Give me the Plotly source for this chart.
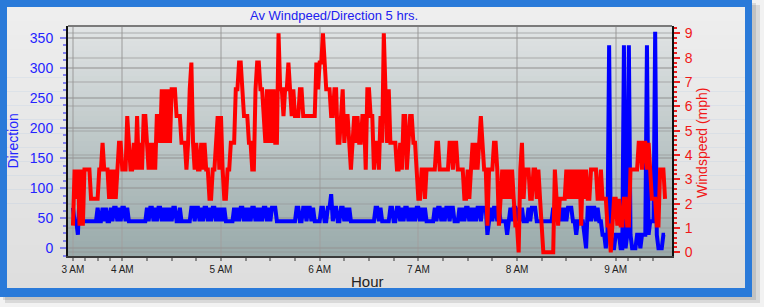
import pandas as pd
import plotly.graph_objects as go

# ---------------- data (1-minute readings, 03:30 - 09:30) ----------------
times = pd.date_range("2024-01-01 03:30", periods=361, freq="1min")

direction = [
    67.5, 45, 45, 22.5, 90, 45, 45, 45, 45, 45,
    45, 45, 45, 45, 45, 67.5, 45, 45, 67.5, 45,
    67.5, 45, 45, 67.5, 45, 67.5, 67.5, 45, 67.5, 45,
    67.5, 67.5, 45, 67.5, 45, 45, 45, 45, 45, 45,
    45, 45, 45, 45, 45, 67.5, 45, 67.5, 67.5, 45,
    67.5, 45, 67.5, 67.5, 45, 67.5, 45, 67.5, 45, 67.5,
    45, 67.5, 67.5, 45, 45, 67.5, 45, 45, 45, 45,
    45, 45, 67.5, 67.5, 45, 67.5, 67.5, 45, 67.5, 45,
    67.5, 67.5, 45, 67.5, 45, 67.5, 67.5, 45, 67.5, 45,
    67.5, 45, 67.5, 45, 45, 45, 45, 45, 67.5, 45,
    67.5, 45, 67.5, 67.5, 45, 67.5, 45, 67.5, 45, 67.5,
    67.5, 45, 67.5, 45, 67.5, 45, 67.5, 67.5, 45, 67.5,
    45, 67.5, 67.5, 67.5, 45, 45, 45, 45, 45, 45,
    45, 45, 45, 45, 45, 45, 67.5, 67.5, 45, 45,
    67.5, 67.5, 45, 67.5, 67.5, 45, 67.5, 45, 45, 45,
    45, 67.5, 67.5, 45, 45, 67.5, 67.5, 90, 45, 67.5,
    67.5, 45, 45, 67.5, 67.5, 45, 67.5, 45, 67.5, 45,
    45, 45, 45, 45, 45, 45, 45, 45, 45, 45,
    45, 45, 45, 45, 67.5, 67.5, 45, 67.5, 45, 45,
    45, 45, 45, 67.5, 67.5, 45, 45, 67.5, 67.5, 45,
    67.5, 45, 67.5, 67.5, 45, 67.5, 45, 67.5, 45, 67.5,
    67.5, 45, 67.5, 45, 67.5, 45, 45, 45, 45, 45,
    67.5, 45, 67.5, 67.5, 45, 67.5, 45, 67.5, 67.5, 45,
    67.5, 67.5, 45, 45, 45, 67.5, 45, 67.5, 45, 67.5,
    67.5, 45, 67.5, 45, 67.5, 45, 67.5, 67.5, 45, 67.5,
    67.5, 67.5, 22.5, 45, 67.5, 45, 67.5, 67.5, 45, 67.5,
    45, 45, 45, 45, 22.5, 45, 67.5, 45, 67.5, 67.5,
    45, 67.5, 45, 67.5, 45, 45, 45, 67.5, 45, 67.5,
    67.5, 67.5, 45, 45, 45, 45, 45, 45, 45, 45,
    45, 45, 67.5, 45, 67.5, 67.5, 45, 67.5, 45, 67.5,
    45, 67.5, 67.5, 67.5, 45, 45, 22.5, 45, 45, 45,
    45, 22.5, 0, 67.5, 67.5, 45, 67.5, 67.5, 45, 67.5,
    45, 45, 22.5, 22.5, 0, 22.5, 337.5, 22.5, 0, 0,
    22.5, 22.5, 22.5, 0, 0, 337.5, 0, 22.5, 337.5, 22.5,
    0, 0, 0, 22.5, 22.5, 0, 22.5, 22.5, 22.5, 337.5,
    22.5, 45, 45, 45, 360, 22.5, 0, 0, 0, 22.5,
    22.5,
]

windspeed = [
    1.1, 3.4, 2.2, 3.4, 1.1, 3.4, 1.1, 3.4, 3.4, 3.4,
    3.4, 2.2, 2.2, 2.2, 2.2, 2.2, 3.4, 3.4, 4.5, 3.4,
    3.4, 3.4, 2.2, 3.4, 2.2, 3.4, 2.2, 3.4, 4.5, 4.5,
    3.4, 3.4, 3.4, 5.6, 4.5, 3.4, 3.4, 4.5, 3.4, 5.6,
    3.4, 4.5, 3.4, 5.6, 5.6, 4.5, 3.4, 4.5, 3.4, 4.5,
    3.4, 5.6, 5.6, 4.5, 6.7, 4.5, 6.7, 4.5, 6.7, 4.5,
    6.7, 6.7, 6.7, 5.6, 5.6, 5.6, 4.5, 4.5, 4.5, 3.4,
    4.5, 6.7, 7.8, 4.5, 3.4, 4.5, 3.4, 3.4, 4.5, 3.4,
    4.5, 3.4, 3.4, 2.2, 2.2, 3.4, 3.4, 4.5, 5.6, 3.4,
    5.6, 3.4, 2.2, 2.2, 3.4, 3.4, 4.5, 4.5, 4.5, 6.7,
    6.7, 7.8, 7.8, 6.7, 5.6, 5.6, 5.6, 4.5, 4.5, 3.4,
    3.4, 6.7, 7.8, 7.8, 6.7, 6.7, 5.6, 4.5, 6.7, 4.5,
    6.7, 4.5, 6.7, 4.5, 4.5, 9.0, 6.7, 6.7, 5.6, 6.7,
    6.7, 7.8, 6.7, 5.6, 6.7, 5.6, 5.6, 5.6, 6.7, 6.7,
    5.6, 5.6, 5.6, 5.6, 5.6, 5.6, 5.6, 5.6, 7.8, 6.7,
    7.8, 7.8, 9.0, 7.8, 6.7, 6.7, 6.7, 5.6, 5.6, 6.7,
    6.7, 4.5, 4.5, 5.6, 6.7, 4.5, 5.6, 5.6, 4.5, 3.4,
    4.5, 5.6, 4.5, 5.6, 4.5, 4.5, 5.6, 5.6, 3.4, 6.7,
    6.7, 5.6, 5.6, 3.4, 4.5, 4.5, 3.4, 5.6, 4.5, 9.0,
    6.7, 4.5, 6.7, 4.5, 4.5, 4.5, 4.5, 3.4, 3.4, 4.5,
    3.4, 5.6, 5.6, 3.4, 4.5, 5.6, 5.6, 4.5, 4.5, 3.4,
    2.2, 2.2, 3.4, 3.4, 2.2, 3.4, 3.4, 3.4, 3.4, 3.4,
    3.4, 4.5, 4.5, 3.4, 3.4, 3.4, 3.4, 3.4, 3.4, 4.5,
    4.5, 3.4, 4.5, 4.5, 3.4, 3.4, 3.4, 3.4, 2.2, 2.2,
    3.4, 2.2, 3.4, 4.5, 3.4, 4.5, 3.4, 4.5, 5.6, 4.5,
    3.4, 3.4, 1.1, 3.4, 3.4, 3.4, 4.5, 4.5, 3.4, 1.1,
    2.2, 3.4, 2.2, 3.4, 2.2, 3.4, 2.2, 3.4, 2.2, 1.1,
    1.1, 0, 3.4, 4.5, 2.2, 3.4, 3.4, 3.4, 2.2, 2.2,
    3.4, 3.4, 2.2, 3.4, 2.2, 1.1, 0, 0, 0, 0,
    0, 0, 0, 3.4, 2.2, 1.1, 2.2, 2.2, 2.2, 2.2,
    3.4, 2.2, 3.4, 2.2, 3.4, 2.2, 3.4, 2.2, 3.4, 1.1,
    3.4, 2.2, 3.4, 2.2, 2.2, 3.4, 3.4, 3.4, 3.4, 2.2,
    2.2, 3.4, 2.2, 2.2, 2.2, 1.1, 1.1, 0, 1.1, 2.2,
    2.2, 1.1, 2.2, 1.1, 1.1, 2.2, 2.2, 1.1, 1.1, 3.4,
    3.4, 3.4, 3.4, 3.4, 4.5, 4.5, 3.4, 4.5, 4.5, 3.4,
    4.5, 3.4, 2.2, 2.2, 2.2, 1.1, 1.1, 3.4, 3.4, 3.4,
    2.2,
]

x_tick_vals = ["2024-01-01 03:30", "2024-01-01 04:00", "2024-01-01 05:00",
               "2024-01-01 06:00", "2024-01-01 07:00", "2024-01-01 08:00",
               "2024-01-01 09:00"]
x_tick_text = ["3 AM", "4 AM", "5 AM", "6 AM", "7 AM", "8 AM", "9 AM"]

title_text = "Av Windpeed/Direction 5 hrs."
left_title = "Direction"
right_title = "Windspeed (mph)"
x_title = "Hour"

# ---------------- geometry helpers (pixels -> paper) ----------------
W, H = 764, 307
PL, PR, PT, PB = 68, 672, 26, 256


def X(px):
    return (px - PL) / (PR - PL)


def Y(py):
    return (PB - py) / (PB - PT)


minor_x = (list(pd.date_range("2024-01-01 03:37:30", "2024-01-01 03:52:30", freq="450s"))
           + list(pd.date_range("2024-01-01 04:15", "2024-01-01 08:45", freq="15min"))
           + list(pd.date_range("2024-01-01 09:07:30", "2024-01-01 09:22:30", freq="450s")))

FONT = "Liberation Sans, Arial, sans-serif"
BLUE_TXT = "#2424ff"
RED_TXT = "#f01818"

fig = go.Figure()
fig.add_trace(go.Scatter(x=times, y=direction, mode="lines",
                         line=dict(color="#0000ff", width=4), yaxis="y",
                         hoverinfo="skip"))
fig.add_trace(go.Scatter(x=times, y=windspeed, mode="lines",
                         line=dict(color="#ff0000", width=4), yaxis="y2",
                         hoverinfo="skip"))

shapes = []
# shadow
shapes.append(dict(type="rect", xref="paper", yref="paper", layer="below",
                   x0=X(5), x1=X(760), y0=Y(5), y1=Y(303),
                   fillcolor="rgba(0,0,0,0.10)", line=dict(width=0)))
shapes.append(dict(type="rect", xref="paper", yref="paper", layer="below",
                   x0=X(3), x1=X(756), y0=Y(3), y1=Y(300),
                   fillcolor="rgba(0,0,0,0.10)", line=dict(width=0)))
# blue frame
shapes.append(dict(type="rect", xref="paper", yref="paper", layer="below",
                   x0=X(0), x1=X(752), y0=Y(0), y1=Y(297),
                   fillcolor="#2a7ad9", line=dict(width=0)))
# frame interior (light gray, slight gradient)
n_in = 20
top_c = (238, 238, 238)
bot_c = (222, 222, 222)
for k in range(n_in):
    y0p = 7 + (287.5 - 7) * k / n_in
    y1p = 7 + (287.5 - 7) * (k + 1) / n_in
    t = k / (n_in - 1)
    c = tuple(int(round(top_c[j] + (bot_c[j] - top_c[j]) * t)) for j in range(3))
    shapes.append(dict(type="rect", xref="paper", yref="paper", layer="below",
                       x0=X(7), x1=X(745), y0=Y(y0p), y1=Y(y1p + 0.5),
                       fillcolor="rgb(%d,%d,%d)" % c, line=dict(width=0)))
# plot area gradient
n_pl = 46
p_top = (224, 227, 228)
p_bot = (154, 171, 171)
for k in range(n_pl):
    y0p = PT + (PB - PT) * k / n_pl
    y1p = PT + (PB - PT) * (k + 1) / n_pl
    t = k / (n_pl - 1)
    c = tuple(int(round(p_top[j] + (p_bot[j] - p_top[j]) * t)) for j in range(3))
    shapes.append(dict(type="rect", xref="paper", yref="paper", layer="below",
                       x0=0, x1=1, y0=Y(y0p), y1=Y(min(y1p + 0.5, PB)),
                       fillcolor="rgb(%d,%d,%d)" % c, line=dict(width=0)))
# top border of plot area
shapes.append(dict(type="line", xref="paper", yref="paper", layer="above",
                   x0=0, x1=1, y0=1, y1=1, line=dict(color="#7a7a7a", width=2)))

annotations = [
    dict(text=title_text, x=X(333.5), y=Y(15), xref="paper", yref="paper",
         showarrow=False, xanchor="center", yanchor="middle",
         font=dict(family=FONT, size=13, color="#2020f0")),
    dict(text=left_title, x=X(12), y=Y(141.5), xref="paper", yref="paper",
         showarrow=False, xanchor="center", yanchor="middle", textangle=-90,
         font=dict(family=FONT, size=14, color=BLUE_TXT)),
    dict(text=right_title, x=X(702), y=Y(143), xref="paper", yref="paper",
         showarrow=False, xanchor="center", yanchor="middle", textangle=-90,
         font=dict(family=FONT, size=14, color=RED_TXT)),
    dict(text=x_title, x=X(367), y=Y(281.5), xref="paper", yref="paper",
         showarrow=False, xanchor="center", yanchor="middle",
         font=dict(family=FONT, size=15, color="#222222")),
]

fig.update_layout(
    width=W, height=H,
    margin=dict(l=PL, r=W - PR, t=PT, b=H - PB, pad=0),
    paper_bgcolor="#f2f2f2",
    plot_bgcolor="rgba(0,0,0,0)",
    showlegend=False,
    shapes=shapes,
    annotations=annotations,
    xaxis=dict(
        type="date",
        range=["2024-01-01 03:26:59", "2024-01-01 09:34:14"],
        tickmode="array", tickvals=x_tick_vals, ticktext=x_tick_text,
        ticks="outside", ticklen=3, tickwidth=1.5, tickcolor="#8a8a8a",
        tickfont=dict(family=FONT, size=10, color="#222222"),
        showgrid=True, gridcolor="rgba(160,160,160,0.55)", gridwidth=2,
        showline=True, linecolor="#3a3a3a", linewidth=2,
        zeroline=False,
        minor=dict(tickmode="array", tickvals=minor_x, ticks="outside",
                   ticklen=3, tickwidth=1.5, tickcolor="#8a8a8a", showgrid=False),
    ),
    yaxis=dict(
        range=[-12.8, 369.4],
        tickmode="linear", tick0=0, dtick=50,
        ticks="outside", ticklen=6, tickwidth=2, tickcolor="#8282ee",
        tickfont=dict(family=FONT, size=14, color=BLUE_TXT),
        ticklabelstandoff=4,
        showgrid=True, gridcolor="rgba(150,150,150,0.55)", gridwidth=2,
        showline=True, linecolor="#111111", linewidth=2,
        zeroline=False,
        minor=dict(dtick=12.5, tick0=0, ticks="outside", ticklen=3,
                   tickwidth=2, tickcolor="#8282ee", showgrid=False),
    ),
    yaxis2=dict(
        overlaying="y", side="right",
        range=[-0.15, 9.30],
        tickmode="linear", tick0=0, dtick=1,
        ticks="outside", ticklen=6, tickwidth=2, tickcolor="#ee2020",
        tickfont=dict(family=FONT, size=14, color=RED_TXT),
        ticklabelstandoff=2,
        showgrid=True, gridcolor="rgba(150,150,150,0.35)", gridwidth=1.5,
        showline=True, linecolor="#111111", linewidth=2,
        zeroline=False,
        minor=dict(dtick=0.2, tick0=0, ticks="outside", ticklen=3,
                   tickwidth=2, tickcolor="#ee2020", showgrid=False),
    ),
)

fig.write_html("out.html")
